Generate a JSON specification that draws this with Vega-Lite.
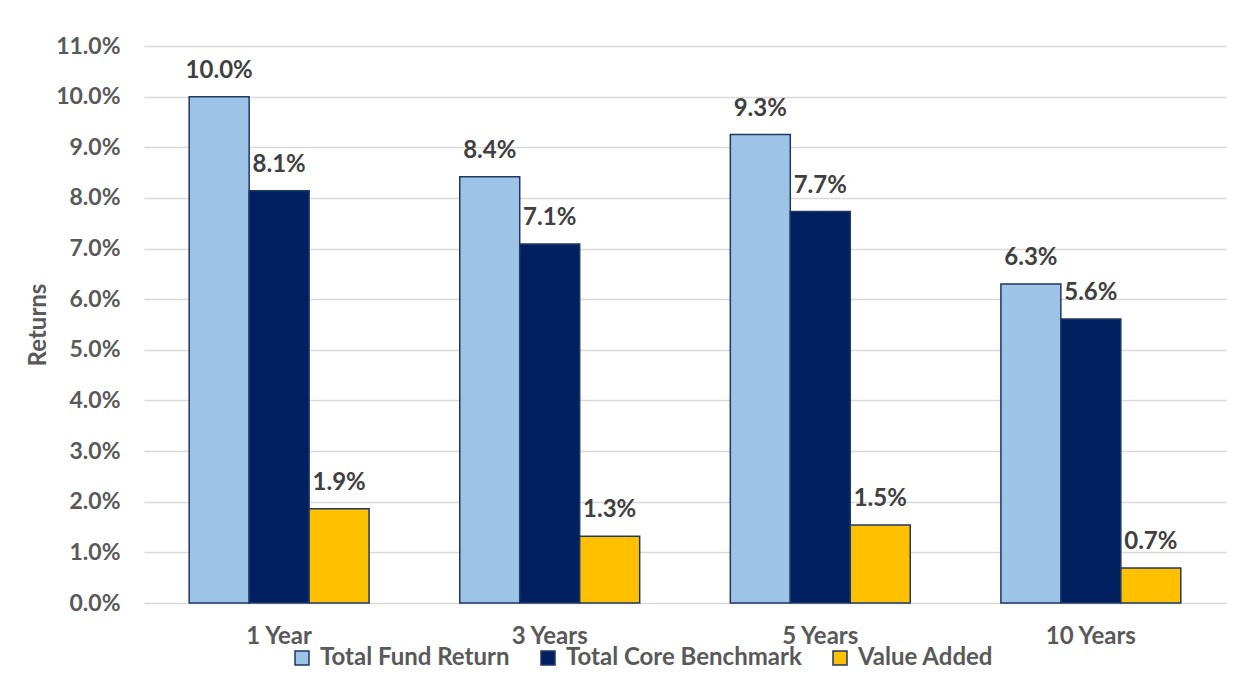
{
  "$schema": "https://vega.github.io/schema/vega-lite/v6.json",
  "autosize": {"type": "none"},
  "width": 1082,
  "height": 557,
  "padding": {"left": 144, "top": 46, "right": 28, "bottom": 70},
  "background": "white",
  "config": {
    "font": "Lato",
    "view": {"stroke": null},
    "axis": {"labelFont": "Lato", "titleFont": "Lato"}
  },
  "data": {
    "values": [
      {"period": "1 Year", "series": "Total Fund Return", "value": 0.1000},
      {"period": "1 Year", "series": "Total Core Benchmark", "value": 0.0814},
      {"period": "1 Year", "series": "Value Added", "value": 0.0186},
      {"period": "3 Years", "series": "Total Fund Return", "value": 0.0842},
      {"period": "3 Years", "series": "Total Core Benchmark", "value": 0.0709},
      {"period": "3 Years", "series": "Value Added", "value": 0.0132},
      {"period": "5 Years", "series": "Total Fund Return", "value": 0.0925},
      {"period": "5 Years", "series": "Total Core Benchmark", "value": 0.0773},
      {"period": "5 Years", "series": "Value Added", "value": 0.0154},
      {"period": "10 Years", "series": "Total Fund Return", "value": 0.0630},
      {"period": "10 Years", "series": "Total Core Benchmark", "value": 0.0561},
      {"period": "10 Years", "series": "Value Added", "value": 0.0069}
    ]
  },
  "encoding": {
    "x": {
      "field": "period", "type": "nominal",
      "sort": ["1 Year", "3 Years", "5 Years", "10 Years"],
      "scale": {"paddingInner": 0.335, "paddingOuter": 0.167},
      "axis": {
        "title": null, "labelAngle": 0, "domain": false, "ticks": false,
        "labelFontSize": 24, "labelFontWeight": "bold", "labelColor": "#595959",
        "labelPadding": 21
      }
    },
    "xOffset": {
      "field": "series", "type": "nominal",
      "sort": ["Total Fund Return", "Total Core Benchmark", "Value Added"],
      "scale": {"paddingInner": 0, "paddingOuter": 0}
    },
    "y": {
      "field": "value", "type": "quantitative",
      "scale": {"domain": [0, 0.11], "nice": false},
      "axis": {
        "title": "Returns", "format": ".1%", "values": [0, 0.01, 0.02, 0.03, 0.04, 0.05, 0.06, 0.07, 0.08, 0.09, 0.1, 0.11],
        "domain": false, "ticks": false,
        "gridColor": "#D9D9D9", "gridWidth": 1.5,
        "labelFontSize": 23, "labelFontWeight": "bold", "labelColor": "#595959",
        "labelPadding": 24,
        "titleFontSize": 24, "titleFontWeight": "bold", "titleColor": "#595959",
        "titlePadding": 5
      }
    }
  },
  "layer": [
    {
      "mark": {"type": "bar", "stroke": "#1F3864", "strokeWidth": 1.5},
      "encoding": {
        "color": {
          "field": "series", "type": "nominal",
          "scale": {
            "domain": ["Total Fund Return", "Total Core Benchmark", "Value Added"],
            "range": ["#9DC3E6", "#002060", "#FFC000"]
          },
          "legend": {
            "title": null, "orient": "none", "direction": "horizontal",
            "legendX": 146, "legendY": 600,
            "symbolType": "square", "symbolSize": 196, "symbolStrokeColor": "#1F3864", "symbolStrokeWidth": 1.5,
            "labelFontSize": 24, "labelFontWeight": "bold", "labelColor": "#595959", "labelLimit": 400,
            "columnPadding": 26, "labelOffset": 6
          }
        }
      }
    },
    {
      "mark": {"type": "text", "baseline": "bottom", "dy": -14, "fontSize": 24, "fontWeight": "bold", "color": "#404040"},
      "encoding": {
        "text": {"field": "value", "type": "quantitative", "format": ".1%"}
      }
    }
  ]
}
